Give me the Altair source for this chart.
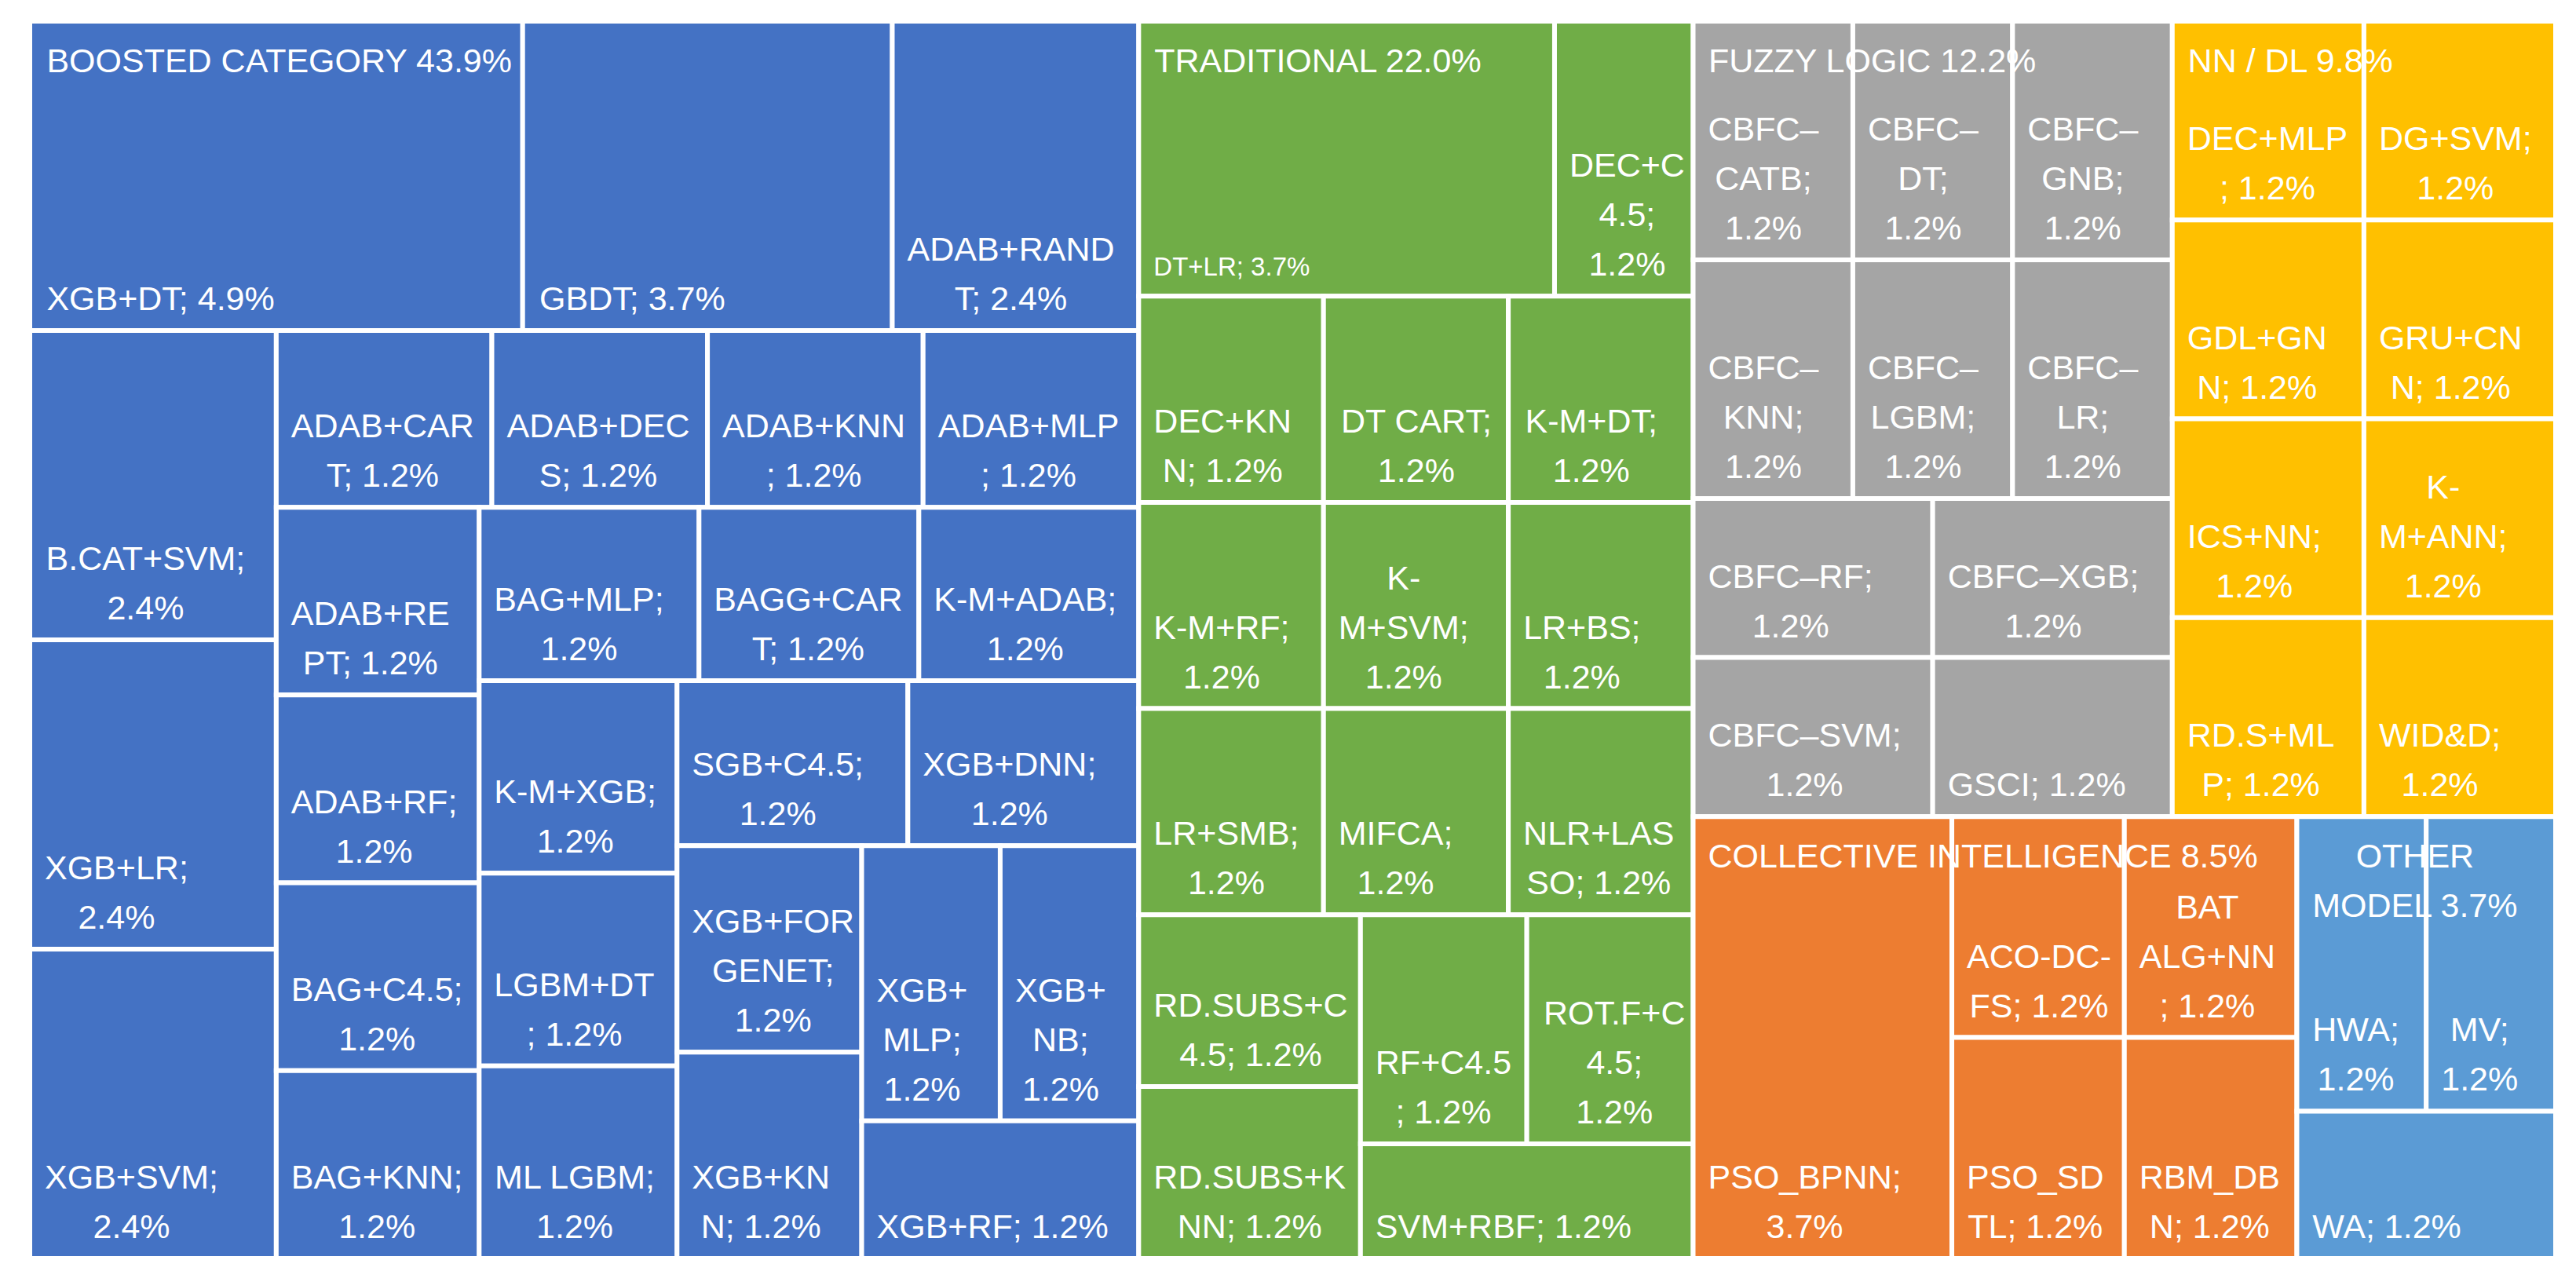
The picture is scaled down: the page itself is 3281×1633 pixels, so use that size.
import altair as alt
import pandas as pd

# ---------------- data ----------------
groups = ["BOOSTED CATEGORY", "TRADITIONAL", "FUZZY LOGIC", "NN / DL",
          "COLLECTIVE INTELLIGENCE", "OTHER MODEL"]
group_labels = ["BOOSTED CATEGORY 43.9%", "TRADITIONAL 22.0%", "FUZZY LOGIC 12.2%",
                "NN / DL 9.8%", "COLLECTIVE INTELLIGENCE 8.5%", "OTHER\nMODEL 3.7%"]
group_colors = ["#4472C4", "#70AD47", "#A5A5A5", "#FFC000", "#ED7D31", "#5B9BD5"]

boosted_names = ["XGB+DT", "GBDT", "ADAB+RANDT", "B.CAT+SVM", "XGB+LR", "XGB+SVM",
                 "ADAB+CART", "ADAB+DECS", "ADAB+KNN", "ADAB+MLP", "ADAB+REPT", "ADAB+RF",
                 "BAG+C4.5", "BAG+KNN", "BAG+MLP", "BAGG+CART", "K-M+ADAB", "K-M+XGB",
                 "LGBM+DT", "ML LGBM", "SGB+C4.5", "XGB+DNN", "XGB+FORGENET", "XGB+KNN",
                 "XGB+MLP", "XGB+NB", "XGB+RF"]
boosted_counts = [4, 3, 2, 2, 2, 2] + [1] * 21
boosted_labels = ["XGB+DT; 4.9%", "GBDT; 3.7%", "ADAB+RAND\nT; 2.4%", "B.CAT+SVM;\n2.4%",
                  "XGB+LR;\n2.4%", "XGB+SVM;\n2.4%", "ADAB+CAR\nT; 1.2%", "ADAB+DEC\nS; 1.2%",
                  "ADAB+KNN\n; 1.2%", "ADAB+MLP\n; 1.2%", "ADAB+RE\nPT; 1.2%", "ADAB+RF;\n1.2%",
                  "BAG+C4.5;\n1.2%", "BAG+KNN;\n1.2%", "BAG+MLP;\n1.2%", "BAGG+CAR\nT; 1.2%",
                  "K-M+ADAB;\n1.2%", "K-M+XGB;\n1.2%", "LGBM+DT\n; 1.2%", "ML LGBM;\n1.2%",
                  "SGB+C4.5;\n1.2%", "XGB+DNN;\n1.2%", "XGB+FOR\nGENET;\n1.2%", "XGB+KN\nN; 1.2%",
                  "XGB+\nMLP;\n1.2%", "XGB+\nNB;\n1.2%", "XGB+RF; 1.2%"]

trad_names = ["DT+LR", "DEC+C4.5", "DEC+KNN", "DT CART", "K-M+DT", "K-M+RF", "K-M+SVM",
              "LR+BS", "LR+SMB", "MIFCA", "NLR+LASSO", "RD.SUBS+C4.5", "RD.SUBS+KNN",
              "RF+C4.5", "ROT.F+C4.5", "SVM+RBF"]
trad_counts = [3] + [1] * 15
trad_labels = ["DT+LR; 3.7%", "DEC+C\n4.5;\n1.2%", "DEC+KN\nN; 1.2%", "DT CART;\n1.2%",
               "K-M+DT;\n1.2%", "K-M+RF;\n1.2%", "K-\nM+SVM;\n1.2%", "LR+BS;\n1.2%",
               "LR+SMB;\n1.2%", "MIFCA;\n1.2%", "NLR+LAS\nSO; 1.2%", "RD.SUBS+C\n4.5; 1.2%",
               "RD.SUBS+K\nNN; 1.2%", "RF+C4.5\n; 1.2%", "ROT.F+C\n4.5;\n1.2%", "SVM+RBF; 1.2%"]

fuzzy_names = ["CBFC–CATB", "CBFC–DT", "CBFC–GNB", "CBFC–KNN", "CBFC–LGBM", "CBFC–LR",
               "CBFC–RF", "CBFC–SVM", "CBFC–XGB", "GSCI"]
fuzzy_counts = [1] * 10
fuzzy_labels = ["CBFC–\nCATB;\n1.2%", "CBFC–\nDT;\n1.2%", "CBFC–\nGNB;\n1.2%",
                "CBFC–\nKNN;\n1.2%", "CBFC–\nLGBM;\n1.2%", "CBFC–\nLR;\n1.2%",
                "CBFC–RF;\n1.2%", "CBFC–SVM;\n1.2%", "CBFC–XGB;\n1.2%", "GSCI; 1.2%"]

nn_names = ["DEC+MLP", "DG+SVM", "GDL+GNN", "GRU+CNN", "ICS+NN", "K-M+ANN", "RD.S+MLP", "WID&D"]
nn_counts = [1] * 8
nn_labels = ["DEC+MLP\n; 1.2%", "DG+SVM;\n1.2%", "GDL+GN\nN; 1.2%", "GRU+CN\nN; 1.2%",
             "ICS+NN;\n1.2%", "K-\nM+ANN;\n1.2%", "RD.S+ML\nP; 1.2%", "WID&D;\n1.2%"]

ci_names = ["PSO_BPNN", "ACO-DC-FS", "BAT ALG+NN", "PSO_SDTL", "RBM_DBN"]
ci_counts = [3, 1, 1, 1, 1]
ci_labels = ["PSO_BPNN;\n3.7%", "ACO-DC-\nFS; 1.2%", "BAT\nALG+NN\n; 1.2%",
             "PSO_SD\nTL; 1.2%", "RBM_DB\nN; 1.2%"]

other_names = ["HWA", "MV", "WA"]
other_counts = [1, 1, 1]
other_labels = ["HWA;\n1.2%", "MV;\n1.2%", "WA; 1.2%"]

group_items = [
    (boosted_names, boosted_counts, boosted_labels),
    (trad_names, trad_counts, trad_labels),
    (fuzzy_names, fuzzy_counts, fuzzy_labels),
    (nn_names, nn_counts, nn_labels),
    (ci_names, ci_counts, ci_labels),
    (other_names, other_counts, other_labels),
]

# ---------------- layout settings (strip order of the treemap) ----------------
top_strips = [(1, "v"), (1, "v"), (2, "h"), (2, "h")]
group_strips = [
    [(3, "h"), (3, "v"), (4, "h"), (4, "v"), (3, "h"), (3, "v"), (2, "h"), (2, "v"), (2, "h"), (1, "v")],
    [(2, "h"), (3, "h"), (3, "h"), (3, "h"), (2, "v"), (2, "h"), (1, "h")],
    [(3, "h"), (3, "h"), (2, "v"), (1, "h"), (1, "h")],
    [(2, "h"), (2, "h"), (2, "h"), (1, "v"), (1, "v")],
    [(1, "v"), (2, "h"), (1, "v"), (1, "v")],
    [(2, "h"), (1, "h")],
]

W, H = 3217, 1576
FS, LH, PAD, BOT = 43, 63, 19, 26
SMALL = {"DT+LR": 33}

ARIAL = dict(A=667, B=667, C=722, D=722, E=667, F=611, G=778, H=722, I=278, J=500, K=667,
             L=556, M=833, N=722, O=778, P=667, Q=778, R=722, S=667, T=611, U=722, V=667,
             W=944, X=667, Y=667, Z=611)
ARIAL.update({str(d): 556 for d in range(10)})
ARIAL.update({" ": 278, ".": 278, ";": 278, "%": 889, "+": 584, "-": 333, "–": 556,
              "_": 556, "&": 667, "/": 278})


def text_w(s, fs):
    return sum(ARIAL.get(c, 600) for c in s) / 1000 * fs


def strip_layout(values, box, strips):
    x0, y0, x1, y1 = box
    rem = float(sum(values))
    i = 0
    out = []
    for cnt, o in strips:
        vals = values[i:i + cnt]
        s = float(sum(vals))
        if o == "h":
            t = (y1 - y0) * s / rem
            cx = x0
            for v in vals:
                w = (x1 - x0) * v / s
                out.append((cx, y0, cx + w, y0 + t))
                cx += w
            y0 += t
        else:
            t = (x1 - x0) * s / rem
            cy = y0
            for v in vals:
                h = (y1 - y0) * v / s
                out.append((x0, cy, x0 + t, cy + h))
                cy += h
            x0 += t
        rem -= s
        i += cnt
    return out


group_values = [sum(c) for _, c, _ in group_items]
group_boxes = strip_layout(group_values, (0, 0, W, H), top_strips)

rects, leaf_txt, grp_txt = [], [], []
for g, (names, counts, labels), box, strips, gl in zip(groups, group_items, group_boxes,
                                                       group_strips, group_labels):
    boxes = strip_layout(counts, box, strips)
    for n, lab, (x0, y0, x1, y1) in zip(names, labels, boxes):
        rects.append(dict(name=n, group=g, x=x0, x2=x1, y=y0, y2=y1))
        fs = SMALL.get(n, FS)
        lines = lab.split("\n")
        bw = max(text_w(l, fs) for l in lines)
        leaf_txt.append(dict(text=lab, x=x0 + PAD + bw / 2,
                             y=y1 - BOT - (len(lines) - 1) * LH, fs=fs))
    lines = gl.split("\n")
    bw = max(text_w(l, FS) for l in lines)
    grp_txt.append(dict(text=gl, x=box[0] + PAD + bw / 2, y=box[1] + 65, fs=FS))

rect_df = pd.DataFrame(rects)
leaf_df = pd.DataFrame(leaf_txt)
grp_df = pd.DataFrame(grp_txt)

xs = alt.Scale(domain=[0, W], nice=False, zero=False)
ys = alt.Scale(domain=[0, H], nice=False, zero=False, reverse=True)

rect_layer = alt.Chart(rect_df).mark_rect(stroke="white", strokeWidth=6).encode(
    x=alt.X("x:Q", scale=xs, axis=None),
    x2="x2:Q",
    y=alt.Y("y:Q", scale=ys, axis=None),
    y2="y2:Q",
    color=alt.Color("group:N", scale=alt.Scale(domain=groups, range=group_colors), legend=None),
)

text_props = dict(align="center", baseline="alphabetic", font="Liberation Sans",
                  lineHeight=LH, lineBreak="\n", color="white")

leaf_layer = alt.Chart(leaf_df).mark_text(**text_props).encode(
    x=alt.X("x:Q", scale=xs, axis=None),
    y=alt.Y("y:Q", scale=ys, axis=None),
    text="text:N",
    size=alt.Size("fs:Q", scale=None, legend=None),
)

grp_layer = alt.Chart(grp_df).mark_text(**text_props).encode(
    x=alt.X("x:Q", scale=xs, axis=None),
    y=alt.Y("y:Q", scale=ys, axis=None),
    text="text:N",
    size=alt.Size("fs:Q", scale=None, legend=None),
)

chart = alt.layer(rect_layer, leaf_layer, grp_layer).properties(
    width=W, height=H,
    padding={"left": 27, "top": 16, "right": 4, "bottom": 4},
    background="white",
).configure_view(stroke=None)

chart.save("out.html", embed_options={"renderer": "svg", "actions": False})
